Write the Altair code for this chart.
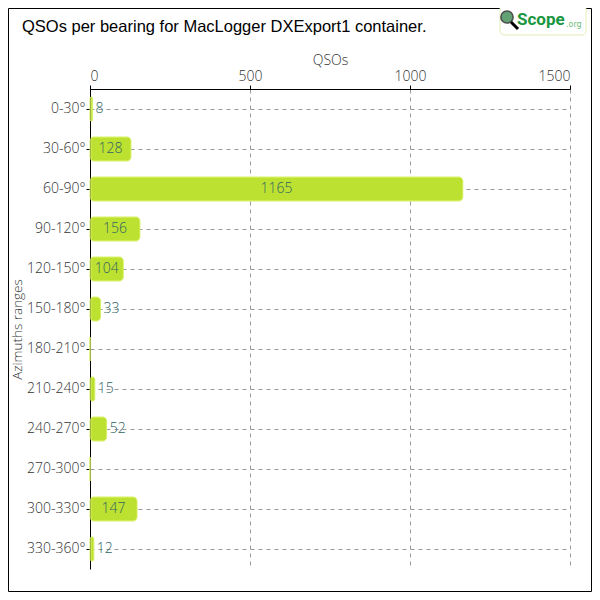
import altair as alt
import pandas as pd

categories = ["0-30°", "30-60°", "60-90°", "90-120°", "120-150°", "150-180°",
              "180-210°", "210-240°", "240-270°", "270-300°", "300-330°", "330-360°"]
qsos = [8, 128, 1165, 156, 104, 33, 0, 15, 52, 0, 147, 12]
x_ticks = [0, 500, 1000, 1500]

df = pd.DataFrame({"cat": categories, "v": qsos})
df["label"] = df["v"].astype(str)
df["inside"] = df["v"] >= 100
df["pos"] = [v / 2 if v >= 100 else v for v in qsos]

FONT = "Open Sans"
FW = 300
y_enc = alt.Y("cat:N", sort=categories, title="Azimuths ranges",
              scale=alt.Scale(paddingInner=0.4, paddingOuter=0.2),
              axis=alt.Axis(bandPosition=0.5, grid=True, gridDash=[4, 4], gridColor="#999999",
                            domainColor="black", tickColor="black", tickSize=4,
                            labelFontSize=14, labelColor="#333333", labelFont=FONT,
                            labelFontWeight=FW, labelPadding=1,
                            titleFontSize=13.5, titleColor="#333333", titleFont=FONT,
                            titleFontWeight=FW, titleX=-73, titleY=240, titleAngle=270,
                            titleAlign="center", titleBaseline="middle"))
x_scale = alt.Scale(domain=[0, 1500], nice=False)
x_enc = alt.X("v:Q", scale=x_scale, title="QSOs",
              axis=alt.Axis(orient="top", values=x_ticks, format="d", grid=True, gridDash=[4, 4],
                            gridColor="#999999", domainColor="black", tickColor="black",
                            tickSize=4, labelFontSize=14, labelColor="#333333",
                            labelFont=FONT, labelFontWeight=FW, labelPadding=2,
                            titleFontSize=14, titleColor="#333333", titleFont=FONT,
                            titleFontWeight=FW, titlePadding=2))

base = alt.Chart(df)
bars = base.mark_bar(color="#bde131", stroke="#d6f063", strokeWidth=1,
                     cornerRadius=4, xOffset=1).encode(x=x_enc, y=y_enc)

lab_in = base.transform_filter("datum.inside").mark_text(
    align="center", baseline="middle", fontSize=14, font=FONT, fontWeight=FW, color="#2f6363"
).encode(x=alt.X("pos:Q", scale=x_scale), y=alt.Y("cat:N", sort=categories), text="label:N")

lab_out = base.transform_filter("!datum.inside && datum.v > 0").mark_text(
    align="left", baseline="middle", dx=3, fontSize=14, font=FONT, fontWeight=FW, color="#2f6363"
).encode(x=alt.X("pos:Q", scale=x_scale), y=alt.Y("cat:N", sort=categories), text="label:N")

title = alt.Chart(pd.DataFrame({"t": ["QSOs per bearing for MacLogger DXExport1 container."]})).mark_text(
    align="left", baseline="middle", fontSize=16.5, font="Liberation Sans", color="black"
).encode(x=alt.value(-68), y=alt.value(-62), text="t:N")

logo_box = alt.Chart(pd.DataFrame({"a": [0]})).mark_rect(
    fill="white", stroke="#e3efb8", cornerRadius=4, strokeWidth=1
).encode(x=alt.value(410), x2=alt.value(496), y=alt.value(-84), y2=alt.value(-54))
logo_icon = alt.Chart(pd.DataFrame({"a": [0]})).mark_point(
    shape="circle", filled=True, size=150, color="#1f7a3a", stroke="black", strokeWidth=1.5
).encode(x=alt.value(417), y=alt.value(-72))
logo_handle = alt.Chart(pd.DataFrame({"a": [0]})).mark_rule(
    color="black", strokeWidth=3
).encode(x=alt.value(421), x2=alt.value(428), y=alt.value(-67), y2=alt.value(-60))
logo_text = alt.Chart(pd.DataFrame({"t": ["Scope"]})).mark_text(
    align="left", baseline="middle", fontSize=17, font="Roboto",
    fontWeight="bold", color="#1a9640"
).encode(x=alt.value(427), y=alt.value(-69), text="t:N")
logo_org = alt.Chart(pd.DataFrame({"t": [".org"]})).mark_text(
    align="left", baseline="middle", fontSize=8, font="DejaVu Sans", color="#6dbb7a"
).encode(x=alt.value(476), y=alt.value(-64), text="t:N")

frame = alt.Chart(pd.DataFrame({"a": [0]})).mark_rect(
    fill=None, stroke="black", strokeWidth=1
).encode(x=alt.value(-81.5), x2=alt.value(501.5), y=alt.value(-80.5), y2=alt.value(502.5))

chart = alt.layer(frame, bars, lab_in, lab_out, title, logo_box, logo_icon, logo_handle,
                  logo_text, logo_org).properties(
    width=480, height=480,
    autosize=alt.AutoSizeParams(type="none"),
    padding={"left": 82, "top": 81, "right": 22, "bottom": 23},
).configure_view(stroke=None)

chart.save("out.html", embed_options={"renderer": "svg", "actions": False})
